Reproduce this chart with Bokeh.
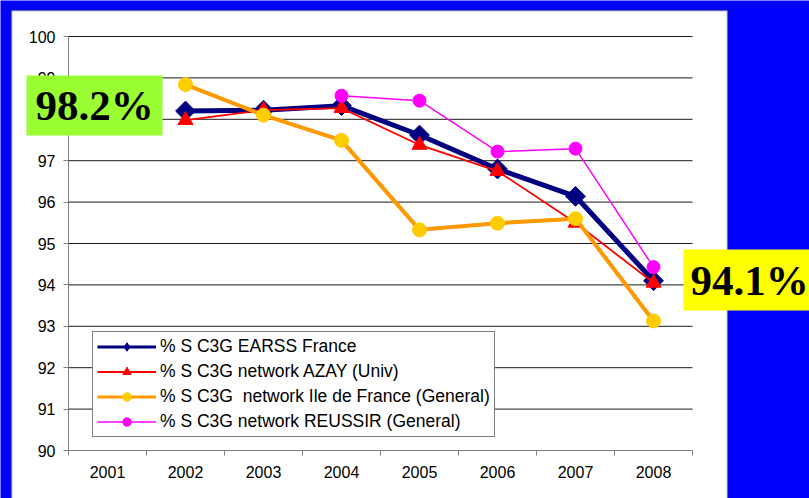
import math
import re
from bokeh.plotting import figure
from bokeh.models import (FixedTicker, Legend, LegendItem, BoxAnnotation, Label, Range1d)
from bokeh.embed import file_html
from bokeh.resources import INLINE

# ---------------- data ----------------
years = [2001, 2002, 2003, 2004, 2005, 2006, 2007, 2008]
earss_france = [None, 98.2, 98.22, 98.33, 97.62, 96.8, 96.14, 94.1]
azay_univ = [None, 97.98, 98.22, 98.27, 97.38, 96.75, 95.5, 94.05]
ile_de_france = [None, 98.84, 98.1, 97.49, 95.33, 95.49, 95.6, 93.13]
reussir = [None, None, None, 98.57, 98.45, 97.22, 97.29, 94.43]
y_ticks = [90, 91, 92, 93, 94, 95, 96, 97, 98, 99, 100]
series_names = [
    "% S C3G EARSS France",
    "% S C3G network AZAY (Univ)",
    "% S C3G  network Ile de France (General)",
    "% S C3G network REUSSIR (General)",
]
badge_left = "98.2%"
badge_right = "94.1%"

# ---------------- layout (canvas pixels) ----------------
W, H = 809, 498
PL, PR, PT, PB = 68, 692, 36, 450            # plot area edges in canvas px
XA, XB = years[0] - 0.5, years[-1] + 0.5     # category axis extent
YA, YB = y_ticks[0], y_ticks[-1]
SX = (PR - PL) / (XB - XA)                   # px per x unit
SY = (PB - PT) / (YB - YA)                   # px per y unit


def dx(px):
    return XA + (px - PL) / SX


def dy(py):
    return YB - (py - PT) / SY


# the frame covers the whole canvas; the chart area is a sub-region of it
p = figure(width=W, height=H,
           x_range=Range1d(dx(0), dx(W)), y_range=Range1d(dy(H), dy(0)),
           output_backend="svg", toolbar_location=None,
           min_border=0, min_border_left=0, min_border_right=0,
           min_border_top=0, min_border_bottom=0,
           border_fill_color="#0000FF", background_fill_color="#0000FF",
           outline_line_color=None)
p.grid.visible = False

# white chart panel
p.add_layout(BoxAnnotation(left=dx(11), right=dx(727), top=dy(10), bottom=dy(520),
                           fill_color="white", fill_alpha=1.0,
                           line_color="#333333", line_width=2, level="image",
                           editable=False))

# horizontal gridlines
grid_vals = [t for t in y_ticks if t > YA]
p.segment(x0=[XA] * len(grid_vals), x1=[XB] * len(grid_vals), y0=grid_vals, y1=grid_vals,
          line_color="#1a1a1a", line_width=1)

# axes placed at the plot-area edges
p.yaxis.fixed_location = XA
p.yaxis.bounds = (YA, YB)
p.yaxis.ticker = FixedTicker(ticks=y_ticks)
p.yaxis.axis_line_color = "#808080"
p.yaxis.major_tick_line_color = "#808080"
p.yaxis.major_tick_out = 5
p.yaxis.major_tick_in = 0
p.yaxis.minor_tick_line_color = None
p.yaxis.major_label_standoff = 8
p.yaxis.major_label_text_font = "Liberation Sans"
p.yaxis.major_label_text_font_size = "16px"
p.yaxis.major_label_text_color = "black"

p.xaxis.fixed_location = YA
p.xaxis.bounds = (XA, XB)
p.xaxis.ticker = FixedTicker(ticks=years,
                             minor_ticks=[y - 0.5 for y in years] + [years[-1] + 0.5])
p.xaxis.axis_line_color = "#808080"
p.xaxis.major_tick_out = 0
p.xaxis.major_tick_in = 0
p.xaxis.minor_tick_out = 5
p.xaxis.minor_tick_in = 0
p.xaxis.minor_tick_line_color = "#808080"
p.xaxis.major_label_standoff = 10
p.xaxis.major_label_text_font = "Liberation Sans"
p.xaxis.major_label_text_font_size = "16px"
p.xaxis.major_label_text_color = "black"


def valid(vals):
    xs = [x for x, v in zip(years, vals) if v is not None]
    ys = [v for v in vals if v is not None]
    return xs, ys


items = []

xs, ys = valid(earss_france)
# thinner copy underneath, used for the legend swatch
k1l = p.line(xs, ys, line_color="#000080", line_width=3)
p.line(xs, ys, line_color="#000080", line_width=5, line_join="round")
k1 = p.scatter(xs, ys, marker="diamond", size=2,
               fill_color="#000080", line_color="#000080")
p.scatter(xs, ys, marker="square", angle=math.pi / 4, size=14,
          fill_color="#000080", line_color="#000080")
items.append(LegendItem(label=series_names[0], renderers=[k1l, k1]))

xs, ys = valid(azay_univ)
l2 = p.line(xs, ys, line_color="#FF0000", line_width=1.8)
m2 = p.scatter(xs, ys, marker="triangle", size=15,
               fill_color="#FF0000", line_color="#FF0000")
items.append(LegendItem(label=series_names[1], renderers=[l2, m2]))

xs, ys = valid(ile_de_france)
k3l = p.line(xs, ys, line_color="#FF9900", line_width=3)
p.line(xs, ys, line_color="#FF9900", line_width=4, line_join="round")
m3 = p.scatter(xs, ys, marker="circle", size=14,
               fill_color="#FFCC00", line_color="#FFCC00")
items.append(LegendItem(label=series_names[2], renderers=[k3l, m3]))

xs, ys = valid(reussir)
l4 = p.line(xs, ys, line_color="#FF00FF", line_width=1.5)
m4 = p.scatter(xs, ys, marker="circle", size=13,
               fill_color="#FF00FF", line_color="#FF00FF")
items.append(LegendItem(label=series_names[3], renderers=[l4, m4]))

legend = Legend(items=items, location=(92, H - 437),
                label_text_font="Liberation Sans", label_text_font_size="17.5px",
                label_text_color="black",
                glyph_width=59, glyph_height=21, label_height=21, label_standoff=4,
                spacing=4, padding=4, margin=0,
                border_line_color="black", border_line_width=1,
                background_fill_color="white", background_fill_alpha=1.0)
p.add_layout(legend)

# highlighted value badges
p.add_layout(BoxAnnotation(left=dx(26), right=dx(162), top=dy(75), bottom=dy(135),
                           fill_color="#99FF33", fill_alpha=1.0, line_color=None,
                           level="annotation", editable=False))
p.add_layout(Label(x=dx(94), y=dy(105), text=badge_left, text_align="center",
                   text_baseline="middle", text_font="Liberation Serif",
                   text_font_style="bold", text_font_size="43px", text_color="black"))

p.add_layout(BoxAnnotation(left=dx(683), right=dx(815), top=dy(249), bottom=dy(310),
                           fill_color="#FFFF00", fill_alpha=1.0, line_color=None,
                           level="annotation", editable=False))
p.add_layout(Label(x=dx(749), y=dy(280), text=badge_right, text_align="center",
                   text_baseline="middle", text_font="Liberation Serif",
                   text_font_style="bold", text_font_size="43px", text_color="black"))

html = file_html(p, INLINE, title="C3G susceptibility")
html = re.sub(r"<body([^>]*)>", r'<body\1 style="background-color:#0000FF;">', html, count=1)
open("out.html", "w").write(html)
